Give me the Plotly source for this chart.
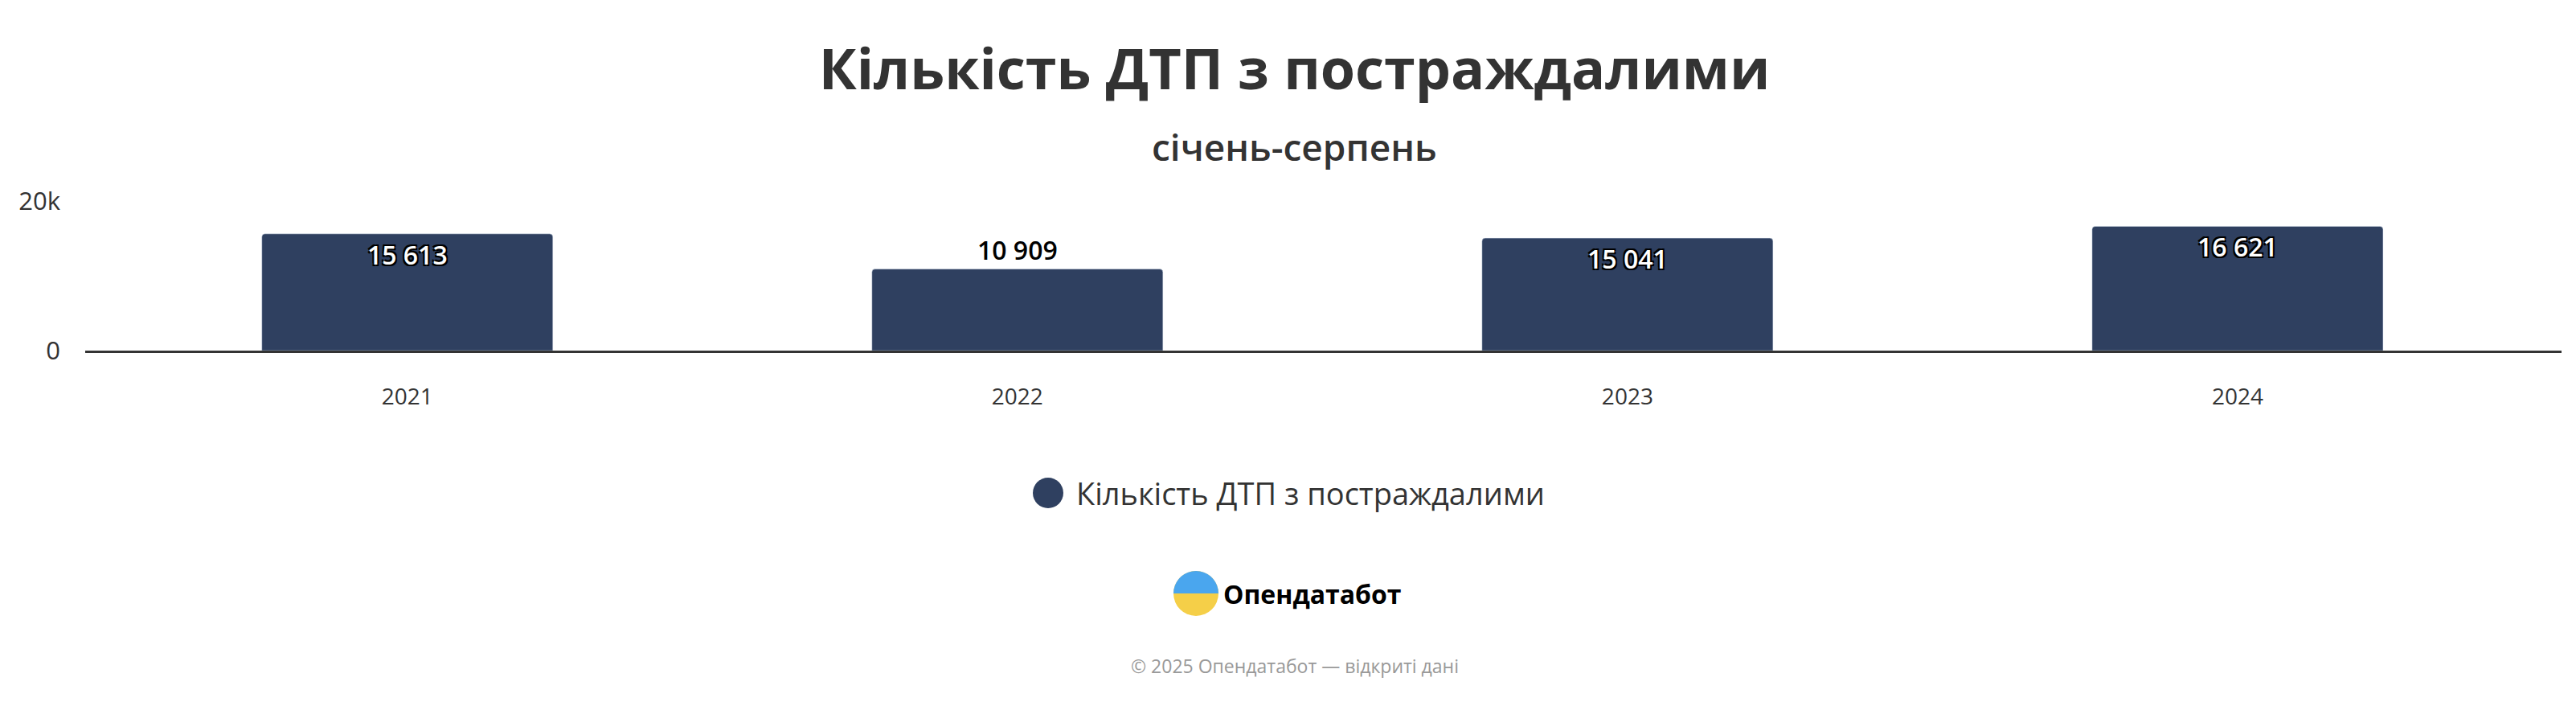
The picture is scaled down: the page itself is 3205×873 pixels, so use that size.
import plotly.graph_objects as go
import math

years = ["2021", "2022", "2023", "2024"]
values = [15613, 10909, 15041, 16621]
labels = ["15 613", "10 909", "15 041", "16 621"]
label_pos = ["inside", "outside", "inside", "inside"]
series_name = "Кількість ДТП з постраждалими"

W, H = 3205, 873
top, bottom, left, right = 242, 445, 98, 26
ph = H - top - bottom
def py(ypix):
    return (H - bottom - ypix) / ph
def sx(px):
    return (px - left) / (W - left - right)
CX = W / 2

FONT = "Open Sans"
fig = go.Figure(go.Bar(
    x=years, y=values, text=labels, name=series_name, showlegend=False,
    marker=dict(color="#2f4060", cornerradius=4), width=0.477,
    textposition=label_pos, textangle=0, insidetextanchor="end",
    insidetextfont=dict(color="white", size=32, family=FONT, weight=600,
                        shadow="-2px -2px 0 #000, 2px -2px 0 #000, -2px 2px 0 #000, 2px 2px 0 #000"),
    outsidetextfont=dict(color="black", size=32, family=FONT, weight=600,
                         shadow="-2px -2px 0 #fff, 2px -2px 0 #fff, -2px 2px 0 #fff, 2px 2px 0 #fff"),
    cliponaxis=False,
))
fig.update_layout(
    width=W, height=H, plot_bgcolor="white", paper_bgcolor="white",
    margin=dict(l=left, r=right, t=top, b=bottom, autoexpand=False),
    font=dict(family=FONT, color="#333333"),
    showlegend=False,
    title=dict(text="<b>Кількість ДТП з постраждалими</b>", x=0.5, xref="container",
               xanchor="center", y=1 - 78 / H, yanchor="middle",
               font=dict(size=70, color="#333333")),
    xaxis=dict(showline=True, linecolor="#333333", linewidth=3, tickfont=dict(size=28),
               range=[-0.528, 3.531],
               ticks="outside", ticklen=30, tickcolor="rgba(0,0,0,0)", fixedrange=True,
               automargin=False),
    yaxis=dict(range=[0, 20000], tickvals=[0, 20000], ticktext=["0", "20k"],
               gridcolor="#e6e6e6", gridwidth=2, zeroline=False, tickfont=dict(size=31),
               ticklabelstandoff=30, automargin=False),
    annotations=[
        dict(text="<span style='font-weight:600'>січень-серпень</span>", xref="paper", yref="paper",
             x=sx(CX), y=py(174), showarrow=False, font=dict(size=46, color="#333333"),
             yanchor="middle"),
        dict(text=series_name, xref="paper", yref="paper", x=sx(1329), xanchor="left",
             y=py(605), yanchor="middle", showarrow=False, font=dict(size=38, color="#333333")),
        dict(text="<b>Опендатабот</b>", xref="paper", yref="paper",
             x=sx(1512), xanchor="left", y=py(730),
             yanchor="middle", showarrow=False, font=dict(size=32, color="black")),
        dict(text="© 2025 Опендатабот — відкриті дані", xref="paper", yref="paper", x=sx(CX),
             y=py(820), yanchor="middle", showarrow=False, font=dict(size=23, color="#999999")),
    ],
)
lr = 19
fig.add_shape(type="circle", xref="paper", yref="paper",
              x0=sx(1296 - lr), x1=sx(1296 + lr), y0=py(605 + lr), y1=py(605 - lr),
              fillcolor="#2f4060", line=dict(width=0))
cx, cy, r = 1480, 730, 28
fig.add_shape(type="circle", xref="paper", yref="paper",
              x0=sx(cx - r), x1=sx(cx + r), y0=py(cy + r), y1=py(cy - r),
              fillcolor="#f5cf48", line=dict(width=0))
pts = []
for i in range(0, 181, 10):
    a = math.radians(180 + i)
    pts.append((sx(cx + r * math.cos(a)), py(cy + r * math.sin(a))))
path = "M " + " L ".join(f"{x},{y}" for x, y in pts) + " Z"
fig.add_shape(type="path", xref="paper", yref="paper", path=path,
              fillcolor="#4aa6ee", line=dict(width=0))
fig.write_html("out.html")
